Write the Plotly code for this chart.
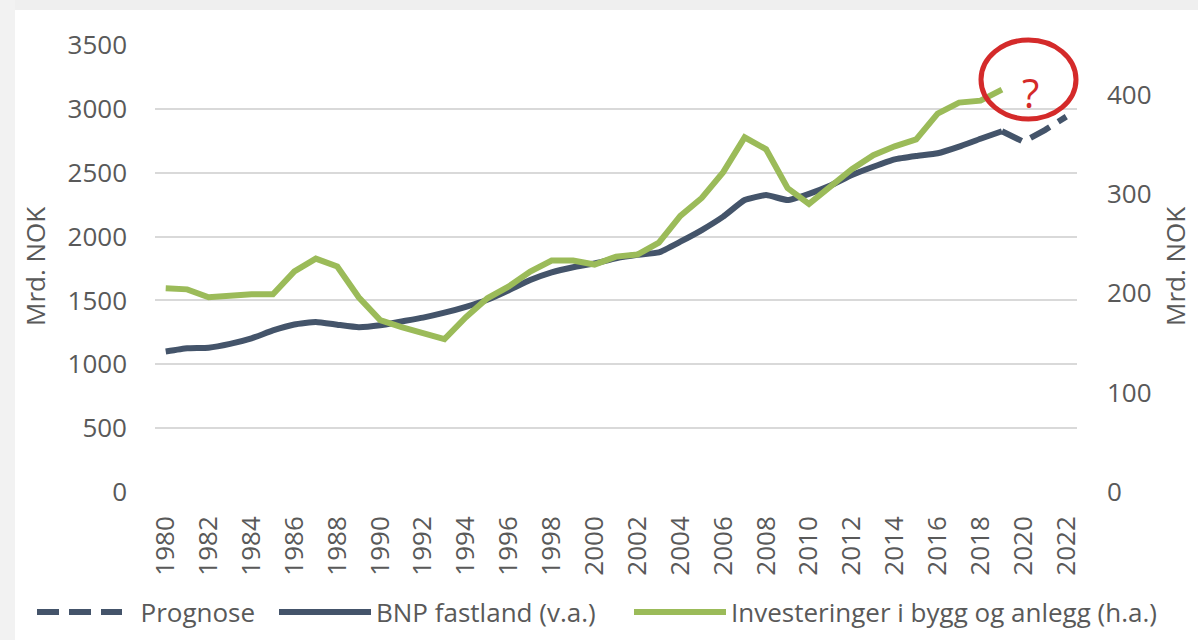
import plotly.graph_objects as go

years = list(range(1980, 2020))
bnp = [1100, 1125, 1130, 1160, 1203, 1265, 1312, 1332, 1310, 1290,
       1305, 1335, 1365, 1404, 1450, 1505, 1580, 1660, 1720, 1760,
       1790, 1830, 1857, 1876, 1960, 2051, 2156, 2286, 2325, 2286,
       2335, 2400, 2482, 2547, 2605, 2631, 2652, 2704, 2766, 2825]
invest = [205, 204, 196, 198, 199, 199, 222, 235, 227, 196,
          173, 166, 160, 154, 176, 195, 207, 222, 233, 233,
          229, 237, 239, 251, 278, 296, 322, 357, 345, 306,
          290, 307, 325, 339, 348, 355, 381, 392, 394, 405]
prog_years = [2019, 2020, 2021, 2022]
prognose = [2825, 2743, 2834, 2939]
xticks = list(range(1980, 2023, 2))

BLUE = "#44546a"
GREEN = "#9bbb59"
TXT = "#595959"
FONT = "Open Sans"

W, H = 1198, 640
L, R, T, B = 155, 1077, 45, 492
pw, ph = R - L, B - T

def px(x):
    return (x - L) / pw

def py(y):
    return (B - y) / ph

NB = "\u00a0"
fig = go.Figure()
fig.add_trace(go.Scatter(x=prog_years, y=prognose, name=NB * 2 + "Prognose", mode="lines",
                         legend="legend",
                         line=dict(color=BLUE, width=6, dash="22px,10px")))
fig.add_trace(go.Scatter(x=years, y=bnp, name="BNP fastland (v.a.)", mode="lines",
                         legend="legend2",
                         line=dict(color=BLUE, width=6, shape="spline", smoothing=0.4)))
fig.add_trace(go.Scatter(x=years, y=invest, name="Investeringer i bygg og anlegg (h.a.)",
                         mode="lines", yaxis="y2", legend="legend3",
                         line=dict(color=GREEN, width=6)))

def leg(x0, iw):
    return dict(orientation="h", xref="container", yref="container",
                x=x0 / W, xanchor="left", y=1 - 612 / H, yanchor="middle",
                font=dict(family=FONT, size=26, color=TXT), itemwidth=iw,
                bgcolor="rgba(0,0,0,0)")

fig.update_layout(
    width=W, height=H,
    margin=dict(l=L, r=W - R, t=T, b=H - B, autoexpand=False),
    paper_bgcolor="white", plot_bgcolor="white",
    font=dict(family=FONT, size=26, color=TXT),
    showlegend=True,
    legend=leg(32, 85),
    legend2=leg(274, 92),
    legend3=leg(629, 92),
    xaxis=dict(range=[1979.5, 2022.5], tickvals=xticks, tickangle=-90,
               showgrid=False, showline=False, zeroline=False, ticks="",
               ticklabelstandoff=18, tickfont=dict(size=26, color=TXT), automargin=False),
    yaxis=dict(range=[0, 3500], dtick=500, showgrid=True, gridcolor="#d9d9d9",
               gridwidth=1.5, zeroline=False, showline=False, ticks="",
               ticklabelstandoff=27, tickfont=dict(size=26, color=TXT), automargin=False),
    yaxis2=dict(range=[0, 450], dtick=100, overlaying="y", side="right",
                showgrid=False, zeroline=False, showline=False, ticks="",
                ticklabelstandoff=29, tickfont=dict(size=26, color=TXT), automargin=False),
    shapes=[
        dict(type="rect", xref="paper", yref="paper", x0=px(0), x1=px(W), y0=py(0), y1=py(10),
             fillcolor="#efefef", line=dict(width=0), layer="above"),
        dict(type="rect", xref="paper", yref="paper", x0=px(0), x1=px(15), y0=py(0), y1=py(H),
             fillcolor="#f2f2f2", line=dict(width=0), layer="above"),
        dict(type="circle", xref="paper", yref="paper", x0=px(981), x1=px(1076),
             y0=py(119), y1=py(40), line=dict(color="#d42a2a", width=5), layer="above"),
    ],
    annotations=[
        dict(text="Mrd. NOK", xref="paper", yref="paper", x=px(35), y=py(267),
             xanchor="center", yanchor="middle",
             textangle=-90, showarrow=False, font=dict(size=26, color=TXT)),
        dict(text="Mrd. NOK", xref="paper", yref="paper", x=px(1175), y=py(267),
             xanchor="center", yanchor="middle",
             textangle=-90, showarrow=False, font=dict(size=26, color=TXT)),
        dict(text="?", xref="paper", yref="paper", x=px(1030), y=py(92),
             xanchor="center", yanchor="middle",
             showarrow=False, font=dict(size=40, color="#d42a2a", family=FONT)),
    ],
)

fig.write_html("out.html", config={"displayModeBar": False},
               post_script="document.body.style.margin='0';document.body.style.overflow='hidden';")
